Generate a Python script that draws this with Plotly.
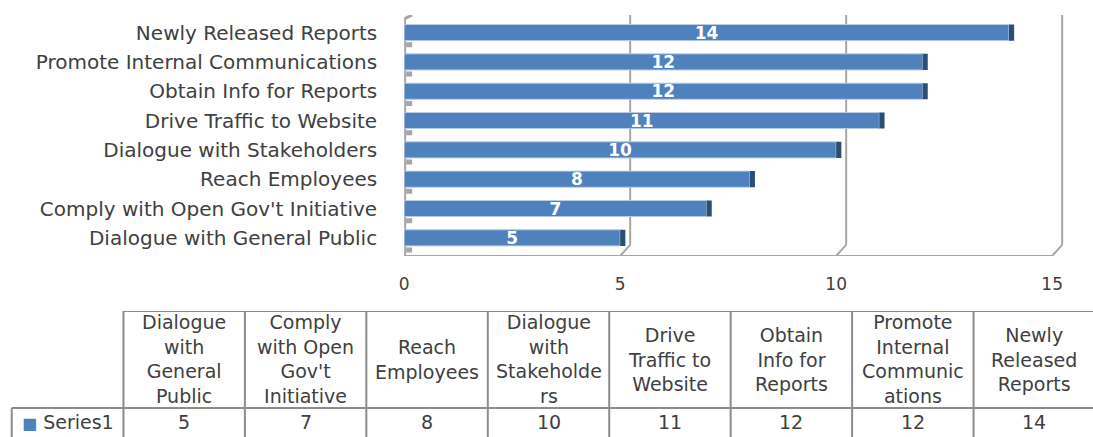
import plotly.graph_objects as go

# --- data ---------------------------------------------------------------
categories = [
    "Dialogue with General Public",
    "Comply with Open Gov't Initiative",
    "Reach Employees",
    "Dialogue with Stakeholders",
    "Drive Traffic to Website",
    "Obtain Info for Reports",
    "Promote Internal Communications",
    "Newly Released Reports",
]
values = [5, 7, 8, 10, 11, 12, 12, 14]
table_headers = [
    "Dialogue<br>with<br>General<br>Public",
    "Comply<br>with Open<br>Gov't<br>Initiative",
    "Reach<br>Employees",
    "Dialogue<br>with<br>Stakeholde<br>rs",
    "Drive<br>Traffic to<br>Website",
    "Obtain<br>Info for<br>Reports",
    "Promote<br>Internal<br>Communic<br>ations",
    "Newly<br>Released<br>Reports",
]
series_name = "Series1"
x_ticks = [0, 5, 10, 15]

BLUE = "#4F81BD"
DARK = "#2C4D75"
GRID = "#A6A6A6"
BORDER = "#8C8C8C"
TEXT = "#404040"
FONT = "DejaVu Sans"

fig = go.Figure()

# front face of the bars
fig.add_trace(go.Bar(
    y=categories, x=values, orientation="h",
    marker=dict(color=BLUE, line=dict(color="#B9CDE5", width=1)),
    width=0.55,
    text=values, textposition="inside", insidetextanchor="middle",
    textangle=0, constraintext="none",
    textfont=dict(family=FONT, size=17, color="white", weight="bold"),
    hoverinfo="skip", showlegend=False,
))
# dark end cap (fake 3D side)
fig.add_trace(go.Bar(
    y=categories, x=[0.12] * len(values), base=values, orientation="h",
    marker=dict(color=DARK, line=dict(width=0)),
    width=0.55, hoverinfo="skip", showlegend=False,
))

# 3D walls / gridlines drawn as shapes, behind the bars
shapes = []
floor = -0.62
top = 7.6
for t in x_ticks[1:]:
    shapes.append(dict(type="line", xref="x", yref="y", xsizemode="pixel",
                       xanchor=t, x0=10, x1=10, y0=floor + 0.38, y1=top,
                       layer="below", line=dict(color=GRID, width=2)))
    shapes.append(dict(type="line", xref="x", yref="y", xsizemode="pixel",
                       xanchor=t, x0=10, x1=0, y0=floor + 0.38, y1=floor,
                       layer="below", line=dict(color=GRID, width=2)))
shapes.append(dict(type="line", xref="x", yref="y", x0=0, x1=x_ticks[-1],
                   y0=floor, y1=floor, layer="below",
                   line=dict(color=GRID, width=2)))
shapes.append(dict(type="rect", xref="x", yref="y", xsizemode="pixel",
                   xanchor=0, x0=-4, x1=2, y0=floor, y1=top - 0.15,
                   layer="below", fillcolor=GRID, line=dict(width=0)))
shapes.append(dict(type="line", xref="x", yref="y", xsizemode="pixel",
                   xanchor=0, x0=-1, x1=8, y0=top - 0.15, y1=top,
                   layer="below", line=dict(color=GRID, width=3)))
for i in range(len(categories)):
    shapes.append(dict(type="rect", xref="x", yref="y", xsizemode="pixel",
                       xanchor=0, x0=2, x1=8, y0=i - 0.5, y1=i - 0.33,
                       layer="below", fillcolor=GRID, line=dict(width=0)))

# data table under the chart (columns = x2 units, data row at y2 = 0)
n = len(values)
head_top = 3.96
tbl_bottom = -0.54
legend_left = -1.42
annotations = []
for i, (h, v) in enumerate(zip(table_headers, values)):
    annotations.append(dict(x=i, y=(0.5 + head_top) / 2, xref="x2", yref="y2",
                            text=h, showarrow=False, align="center",
                            font=dict(family=FONT, size=19, color=TEXT)))
    annotations.append(dict(x=i, y=0, xref="x2", yref="y2", text=str(v),
                            showarrow=False,
                            font=dict(family=FONT, size=19, color=TEXT)))
annotations.append(dict(
    x=legend_left + 0.07, y=0, xref="x2", yref="y2", xanchor="left",
    text=f"<span style='color:{BLUE};font-size:16px'>■</span> {series_name}",
    showarrow=False, font=dict(family=FONT, size=19, color=TEXT)))

for i in range(n + 1):
    shapes.append(dict(type="line", xref="x2", yref="y2", x0=i - 0.5,
                       x1=i - 0.5, y0=tbl_bottom, y1=head_top,
                       line=dict(color=BORDER, width=2)))
shapes.append(dict(type="line", xref="x2", yref="y2", x0=legend_left,
                   x1=legend_left, y0=tbl_bottom, y1=0.5,
                   line=dict(color=BORDER, width=2)))
shapes.append(dict(type="line", xref="x2", yref="y2", x0=-0.5, x1=n - 0.5,
                   y0=head_top, y1=head_top, line=dict(color=BORDER, width=2)))
shapes.append(dict(type="line", xref="x2", yref="y2", x0=legend_left,
                   x1=n - 0.5, y0=0.5, y1=0.5,
                   line=dict(color=BORDER, width=2)))

fig.update_layout(
    width=1093, height=437,
    margin=dict(l=0, r=0, t=0, b=0),
    paper_bgcolor="white", plot_bgcolor="white",
    shapes=shapes, annotations=annotations,
    barmode="overlay",
    xaxis=dict(domain=[401 / 1093, 1065 / 1093], range=[0, 15.3],
               tickvals=x_ticks, showgrid=False, zeroline=False,
               showline=False, ticks="", ticklabelstandoff=16,
               tickfont=dict(family=FONT, size=17, color=TEXT)),
    yaxis=dict(domain=[1 - 256 / 437, 1 - 15 / 437], range=[floor, top],
               showgrid=False, zeroline=False, showline=False, ticks="",
               ticklabelstandoff=26,
               tickfont=dict(family=FONT, size=20, color=TEXT)),
    xaxis2=dict(domain=[0, 1], range=[-180 / 122, (1093 - 180) / 122],
                anchor="y2", visible=False),
    yaxis2=dict(domain=[0, 1 - 311 / 437], range=[tbl_bottom, head_top],
                anchor="x2", visible=False),
)

fig.write_html("out.html", config={"displayModeBar": False},
               post_script="document.body.style.margin='0';")
